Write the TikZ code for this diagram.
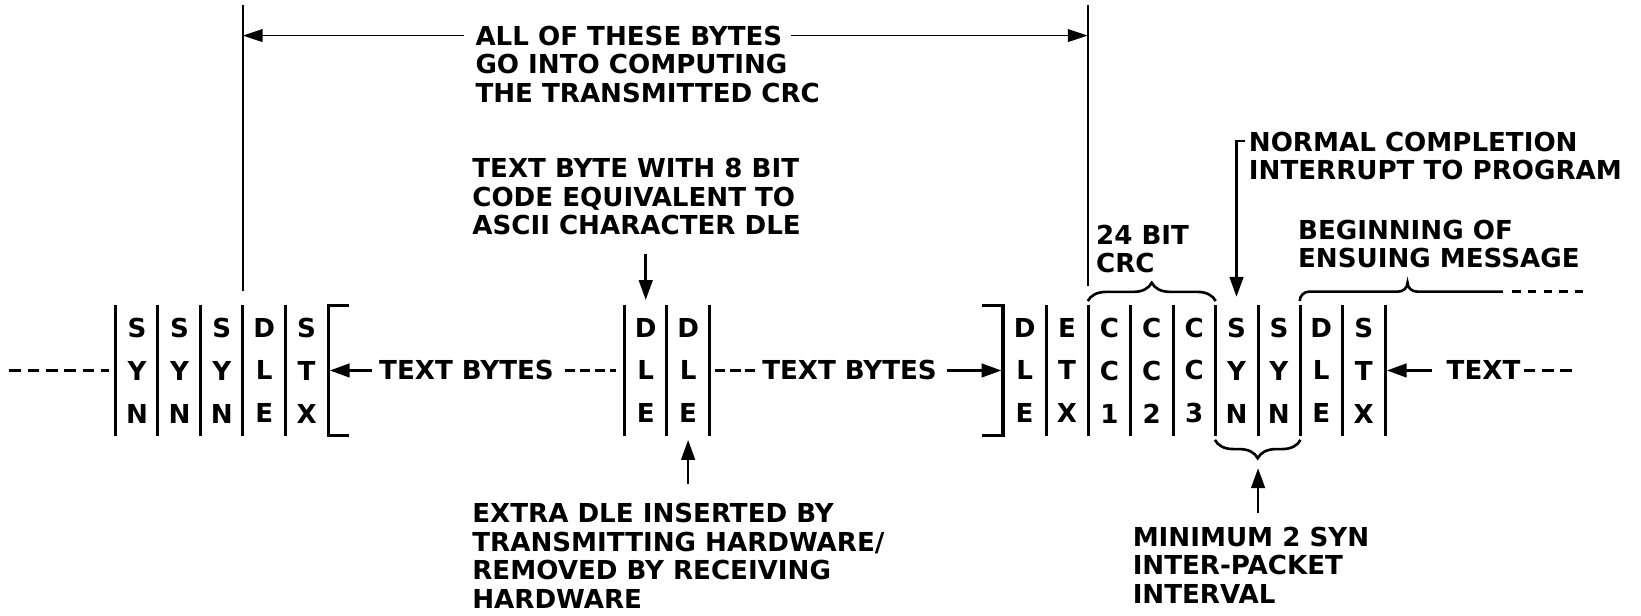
\documentclass[tikz,border=0pt]{standalone}
\usepackage{fontspec}
\setmainfont{DejaVu Sans}
\usepackage{tikz}
\usetikzlibrary{positioning, arrows.meta, decorations.pathreplacing, calc}

\begin{document}
\begin{tikzpicture}[x=0.2mm, y=0.2mm,
    every node/.style={font=\bfseries\fontsize{14.2}{15.5}\selectfont, inner sep=0pt},
    byte/.style={minimum width=8.1mm, minimum height=24.8mm, align=center, font=\bfseries\fontsize{14.2}{23.3}\selectfont},
    note/.style={anchor=west, align=left},
    bytebar/.style={line width=0.6mm},
    dim/.style={line width=0.33mm},
    dimarrow/.style={line width=0.33mm, -{Triangle[length=3.8mm, width=2.4mm]}},
    pointer/.style={line width=0.5mm, -{Triangle[length=3.8mm, width=2.6mm]}},
    dashline/.style={line width=0.5mm, dash pattern=on 2mm off 0.9mm},
    longdash/.style={line width=0.5mm, dash pattern=on 2.2mm off 1.3mm},
    curly/.style={line width=0.5mm, decorate, decoration={brace, amplitude=3.5mm, raise=0.8mm}}]
  \useasboundingbox (0,0) rectangle (1568,588);

  % first message: SYN SYN SYN DLE STX [
  \foreach \t [count=\i] in {{S\\Y\\N},{S\\Y\\N},{S\\Y\\N},{D\\L\\E},{S\\T\\X}}
    \node[byte] (l\i) at (131+40.5*\i-40.5,234) {\t};
  \foreach \i in {1,...,5} \draw[bytebar] (l\i.north west) -- (l\i.south west);
  \draw[bytebar] ([xshift=4mm]l5.north east) -- (l5.north east) -- (l5.south east) -- ++(4mm,0);

  % data DLE DLE
  \foreach \t [count=\i] in {{D\\L\\E},{D\\L\\E}}
    \node[byte] (m\i) at (617+40.5*\i-40.5,234) {\t};
  \foreach \i in {1,2} \draw[bytebar] (m\i.north west) -- (m\i.south west);
  \draw[bytebar] (m2.north east) -- (m2.south east);

  % ] DLE ETX CRC1-3 SYN SYN DLE STX
  \foreach \t [count=\i] in {{D\\L\\E},{E\\T\\X},{C\\C\\1},{C\\C\\2},{C\\C\\3},{S\\Y\\N},{S\\Y\\N},{D\\L\\E},{S\\T\\X}}
    \node[byte] (r\i) at (979+40.5*\i-40.5,234) {\t};
  \foreach \i in {1,...,9} \draw[bytebar] (r\i.north east) -- (r\i.south east);
  \draw[bytebar] ([xshift=-4mm]r1.north west) -- (r1.north west) -- (r1.south west) -- ++(-4mm,0);

  % text runs between the frames
  \node (tb1) [anchor=west] at (362,234) {TEXT BYTES};
  \node (tb2) [anchor=west] at (728,234) {TEXT BYTES};
  \node (tb3) [anchor=west] at (1382,234) {TEXT};
  \coordinate (lead) at (9,234);
  \coordinate (trail) at (1502,234);
  \draw[longdash, shorten >=1.2mm] (lead) -- (l1.west);
  \draw[pointer, shorten <=1.4mm, shorten >=0.3mm] (tb1.west) -- (l5.east);
  \draw[dashline, shorten <=2mm, shorten >=1.6mm] (tb1.east) -- (m1.west);
  \draw[dashline, shorten <=1mm, shorten >=1.4mm] (m2.east) -- (tb2.west);
  \draw[pointer, shorten <=1.8mm, shorten >=0.3mm] (tb2.east) -- (r1.west);
  \draw[pointer, shorten <=2.8mm, shorten >=0.3mm] (tb3.west) -- (r9.east);
  \draw[longdash, shorten <=0.6mm] (tb3.east) -- (trail);

  % span of the CRC
  \node (span) [note] at (454,554) {ALL OF THESE BYTES};
  \node (spannote) [note] at (454,513) {GO INTO COMPUTING\\THE TRANSMITTED CRC};
  \coordinate (spanL) at (l4.north west |- span.west);
  \coordinate (spanR) at (r3.north west |- span.west);
  \draw[dim] ([yshift=2.8mm]l4.north west) -- (l4.north west |- 0,583);
  \draw[dim] ([yshift=3.6mm]r3.north west) -- (r3.north west |- 0,583);
  \draw[dimarrow, shorten <=2.2mm] (span.west) -- (spanL);
  \draw[dimarrow, shorten <=1.6mm] (span.east) -- (spanR);

  % notes and pointers
  \node (dlenote) [note] at (451,400) {TEXT BYTE WITH 8 BIT\\CODE EQUIVALENT TO\\ASCII CHARACTER DLE};
  \node (extranote) [note] at (451,57) {EXTRA DLE INSERTED BY\\TRANSMITTING HARDWARE/\\REMOVED BY RECEIVING\\HARDWARE};
  \draw[pointer, shorten <=3.6mm, shorten >=1mm] (m1.north |- dlenote.south) -- (m1.north);
  \draw[pointer, shorten <=3.7mm, shorten >=0.8mm] (m2.south |- extranote.north) -- (m2.south);

  \node (crcbits) [note] at (1047,350) {24 BIT\\CRC};
  \draw[curly] (r3.north west) -- (r5.north east);

  \node (normal) [note] at (1193,439) {NORMAL COMPLETION\\INTERRUPT TO PROGRAM};
  \draw[pointer, shorten >=1.6mm] ($(normal.north west)+(-3,-9)$) -| (r6.north);

  \node (ensuing) [note] at (1240,355) {BEGINNING OF\\ENSUING MESSAGE};
  \draw[line width=0.5mm] ($(r8.north west)+(0,4)$) to[out=90,in=180] ++(9,9) -- ++(85,0)
    to[out=0,in=-90] ++(9,8.5) to[out=-90,in=180] ++(9,-8.5) -- ++(82,0) coordinate (msgend);
  \draw[line width=0.5mm, dash pattern=on 1.6mm off 1.4mm] ($(msgend)+(9,0)$) -- ++(72,0);

  \node (minsyn) [note] at (1082,48) {MINIMUM 2 SYN\\INTER-PACKET\\INTERVAL};
  \draw[curly] (r7.south east) -- (r6.south west);
  \draw[pointer, shorten <=2.5mm, shorten >=6.2mm] (r6.south east |- minsyn.north) -- (r6.south east);
\end{tikzpicture}
\end{document}
